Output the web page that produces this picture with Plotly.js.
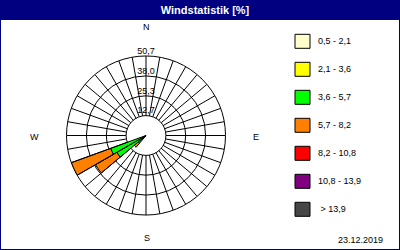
<!DOCTYPE html>
<html><head><meta charset="utf-8">
<script src="https://cdn.plot.ly/plotly-3.0.1.min.js"></script>
<style>html,body{margin:0;padding:0;background:#fff}#c{width:400px;height:250px}</style>
</head><body><div id="c"></div>
<script>
// Data
const directions = [225, 235, 245];              // sector centre (deg, compass)
const classLabels = ['0,5 - 2,1', '2,1 - 3,6', '3,6 - 5,7', '5,7 - 8,2', '8,2 - 10,8', '10,8 - 13,9', '\u00a0> 13,9'];
const classColors = ['#FFFFCC', '#FFFF00', '#00FF00', '#FF8000', '#FF0000', '#800080', '#464646'];
const v05_21  = [0, 0, 0];
const v21_36  = [0, 0, 0];
const v36_57  = [6.5, 21.5, 24.0];
const v57_82  = [3.3, 15.7, 26.7];
const v82_108 = [0, 0, 0];
const v108_139 = [0, 0, 0];
const v139    = [0, 0, 0];
const radialTicks = [12.7, 25.3, 38.0, 50.7];
const radialTickText = ['12,7', '25,3', '38,0', '50,7'];
const dateText = '23.12.2019';

const series = [v05_21, v21_36, v36_57, v57_82, v82_108, v108_139, v139];
const traces = series.map((vals, i) => ({
  type: 'barpolar', r: vals, theta: directions, width: 10, name: classLabels[i],
  marker: {color: classColors[i], line: {color: '#000', width: 1}},
  showlegend: false, hoverinfo: 'skip'
}));

// spokes from inner to outer grid circle every 10 deg
const sr = [], st = [];
for (let a = 0; a < 360; a += 10) {
  sr.push(radialTicks[0], radialTicks[radialTicks.length - 1], null);
  st.push(a, a, null);
}
traces.push({type: 'scatterpolar', mode: 'lines', r: sr, theta: st, connectgaps: false,
  line: {color: '#000', width: 1}, showlegend: false, hoverinfo: 'skip'});
traces.push({type: 'scatterpolar', mode: 'text', r: radialTicks, theta: radialTicks.map(() => 0),
  text: radialTickText, textposition: 'top center', cliponaxis: false,
  textfont: {family: 'Liberation Sans, Arial, sans-serif', size: 9, color: '#000'},
  showlegend: false, hoverinfo: 'skip'});

const W = 400, H = 250;
const px = x => x / W, py = y => 1 - y / H;
const font = {family: 'Liberation Sans, Arial, sans-serif', size: 9, color: '#000'};
const shapes = [
  {type: 'rect', xref: 'paper', yref: 'paper', x0: 0, x1: 1, y0: py(20), y1: 1, fillcolor: '#000080', line: {width: 0}, layer: 'below'},
  {type: 'rect', xref: 'paper', yref: 'paper', x0: 0, x1: 1, y0: 0, y1: 1, line: {color: '#000080', width: 2}}
];
const annotations = [
  {text: 'N', x: px(146.5), y: py(27)},
  {text: 'S', x: px(146.5), y: py(238)},
  {text: 'W', x: px(34), y: py(137)},
  {text: 'E', x: px(256), y: py(137)},
  {text: dateText, x: px(360), y: py(240)}
].map(a => Object.assign({xref: 'paper', yref: 'paper', showarrow: false, xanchor: 'center', yanchor: 'middle', font: font}, a));

classLabels.forEach((lab, i) => {
  const yc = 41.3 + 28 * i;
  shapes.push({type: 'rect', xref: 'paper', yref: 'paper', x0: px(295), x1: px(310), y0: py(yc + 7), y1: py(yc - 7),
    fillcolor: classColors[i], line: {color: '#000', width: 1}});
  annotations.push({xref: 'paper', yref: 'paper', showarrow: false, text: lab, x: px(316), y: py(yc),
    xanchor: 'left', yanchor: 'middle', font: font});
});

const layout = {
  width: W, height: H, margin: {l: 0, r: 0, t: 0, b: 0},
  paper_bgcolor: '#fff', showlegend: false,
  title: {text: 'Windstatistik [%]', x: px(205), y: py(10), xanchor: 'center', yanchor: 'middle',
    font: {family: 'Liberation Sans, Arial, sans-serif', size: 11, color: '#fff', weight: 'bold'}},
  polar: {
    domain: {x: [66.5 / W, 225.5 / W], y: [35 / H, 194 / H]},
    bgcolor: '#fff', barmode: 'stack', bargap: 0,
    radialaxis: {range: [0, 50.7], tickvals: radialTicks, showticklabels: false, ticks: '',
      showline: false, showgrid: true, gridcolor: '#000', gridwidth: 1},
    angularaxis: {rotation: 90, direction: 'clockwise', showgrid: false, showticklabels: false, ticks: '',
      showline: true, linecolor: '#000', linewidth: 1}
  },
  shapes: shapes, annotations: annotations
};
Plotly.newPlot('c', traces, layout, {staticPlot: true});
</script></body></html>
